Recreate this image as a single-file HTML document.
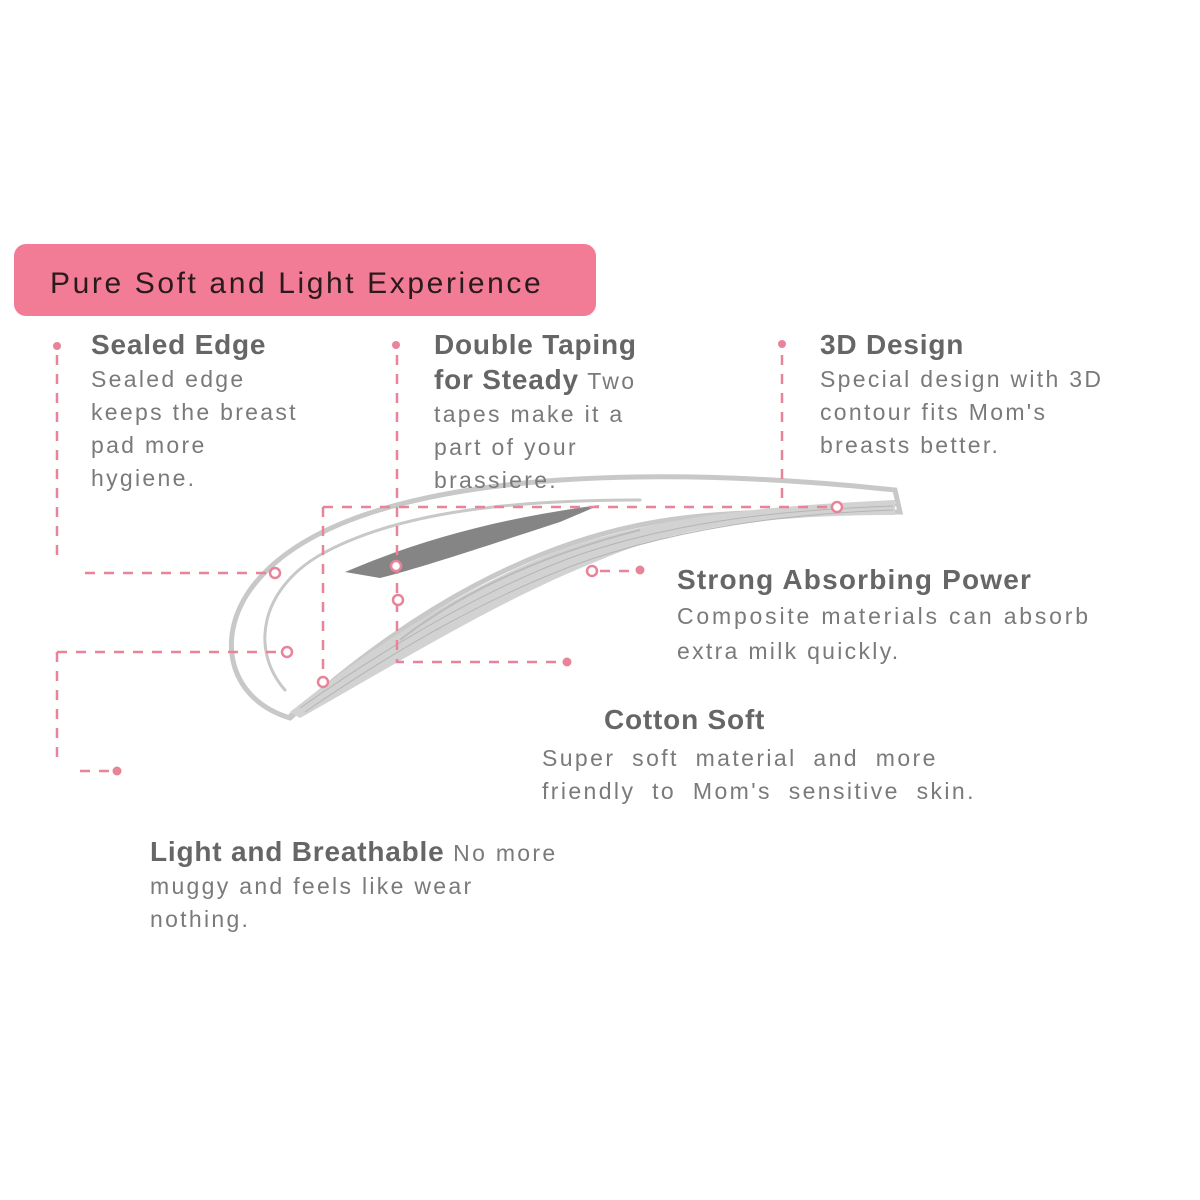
<!DOCTYPE html>
<html><head><meta charset="utf-8"><style>
body{margin:0;width:1200px;height:1200px;background:#fff;position:relative;overflow:hidden;font-family:"Liberation Sans",sans-serif}
.t{position:absolute;color:#7a7a7a;font-size:23px;letter-spacing:2.3px;line-height:33px;white-space:nowrap}
.h{color:#666;font-weight:bold;font-size:28px;letter-spacing:0.8px}
svg{position:absolute;left:0;top:0}
</style></head><body>
<svg width="1200" height="1200">
<rect x="14" y="244" width="582" height="72" rx="12" fill="#f27c95"/>
<g fill="none" stroke="#c8c8c8" stroke-width="5" stroke-linecap="round">
<path d="M290,718 C230,700 215,640 250,590 C300,520 420,490 560,480 C680,472 800,480 895,490 L900,512 C820,512 720,508 640,525 C540,545 420,600 290,718 Z" fill="#fff"/>
<path d="M285,690 C250,650 260,590 320,555 C400,510 520,500 640,500" stroke-width="3"/>
<path d="M290,715 C380,650 470,590 560,555 C650,520 760,510 895,505" stroke-width="3"/>
</g>
<path d="M290,712 C380,640 470,585 560,550 C660,515 780,505 895,500 L895,515 C780,515 680,525 600,560 C500,600 420,650 300,718 Z" fill="#d2d2d2"/>
<g stroke="#b5b5b5" stroke-width="1" fill="none">
<path d="M300,708 C390,645 480,592 570,558 C670,522 780,510 893,506"/>
<path d="M305,712 C395,650 485,598 580,563 C680,528 785,514 893,510"/>
<path d="M400,640 C470,585 560,550 640,530" stroke="#bbb" stroke-width="2"/>
</g>
<path d="M345,572 C420,540 500,518 600,505 L560,522 C480,548 420,568 380,578 Z" fill="#858585"/>
<g stroke="#e8849a" stroke-width="2.5" stroke-dasharray="10 9" fill="none">
<path d="M57,355 V560"/><path d="M85,573 H270"/>
<path d="M397,355 V662 H560"/>
<path d="M782,355 V507"/><path d="M323,507 H830"/><path d="M323,507 V678"/>
<path d="M57,652 H280"/><path d="M57,652 V760"/><path d="M80,771 H110"/>
<path d="M600,571 H635"/>
</g>
<g fill="#e8849a">
<circle cx="57" cy="346" r="4"/><circle cx="396" cy="345" r="4"/><circle cx="782" cy="344" r="4"/>
<circle cx="567" cy="662" r="4.5"/><circle cx="117" cy="771" r="4.5"/><circle cx="640" cy="570" r="4.5"/>
</g>
<g fill="#fff" stroke="#e8849a" stroke-width="2.5">
<circle cx="275" cy="573" r="5"/><circle cx="287" cy="652" r="5"/><circle cx="323" cy="682" r="5"/>
<circle cx="398" cy="600" r="5"/><circle cx="592" cy="571" r="5"/><circle cx="837" cy="507" r="5"/><circle cx="396" cy="566" r="5"/>
</g>
</svg>
<div class="t" style="left:50px;top:264px;font-size:30px;color:#2a1a1e;letter-spacing:2.6px;line-height:40px">Pure Soft and Light Experience</div>
<div class="t" style="left:91px;top:328px"><span class="h">Sealed Edge</span><br>Sealed edge<br>keeps the breast<br>pad more<br>hygiene.</div>
<div class="t" style="left:434px;top:328px"><span class="h">Double Taping</span><br><span class="h">for Steady</span> Two<br>tapes make it a<br>part of your<br>brassiere.</div>
<div class="t" style="left:820px;top:328px"><span class="h">3D Design</span><br>Special design with 3D<br>contour fits Mom's<br>breasts better.</div>
<div class="t" style="left:677px;top:562px;line-height:35px"><span class="h" style="letter-spacing:1.2px">Strong Absorbing Power</span><br><span style="letter-spacing:2.8px">Composite materials can absorb</span><br>extra milk quickly.</div>
<div class="t" style="left:604px;top:703px"><span class="h">Cotton Soft</span></div>
<div class="t" style="left:542px;top:742px;word-spacing:8px;letter-spacing:2.4px">Super soft material and more<br>friendly to Mom's sensitive skin.</div>
<div class="t" style="left:150px;top:835px"><span class="h">Light and Breathable</span> No more<br>muggy and feels like wear<br>nothing.</div>
</body></html>
